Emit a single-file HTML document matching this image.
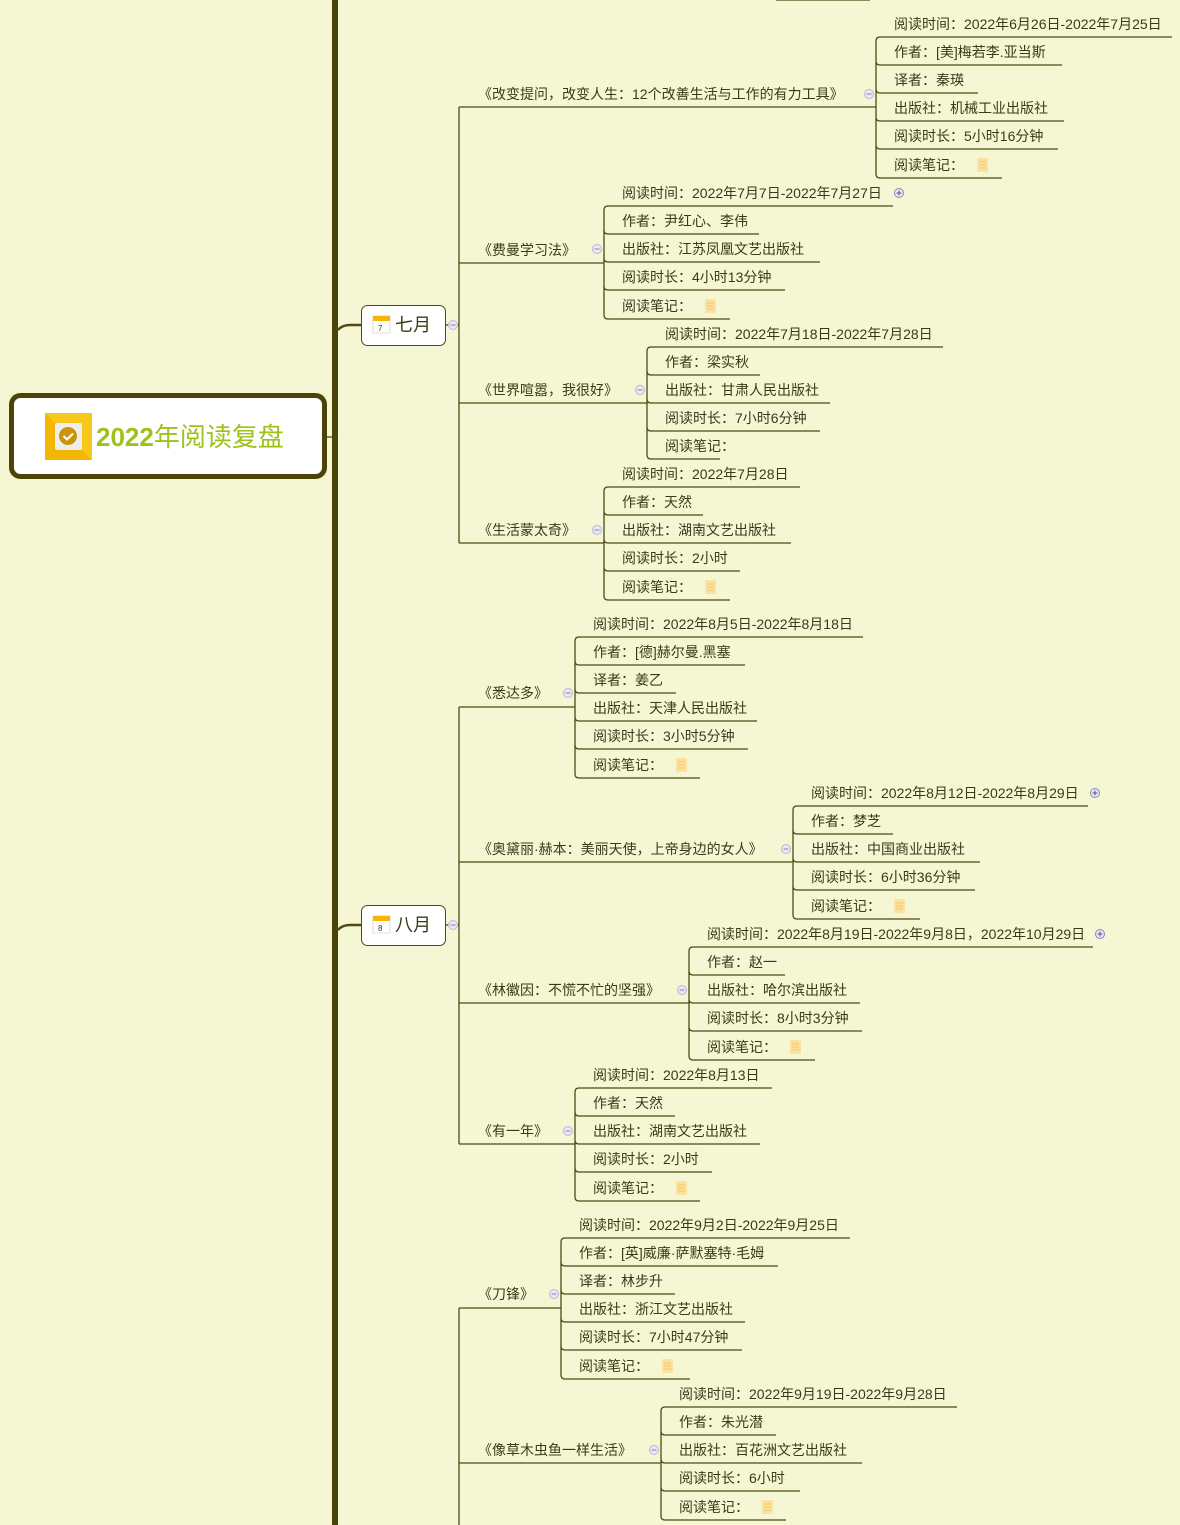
<!DOCTYPE html>
<html><head><meta charset="utf-8"><style>
html,body{margin:0;padding:0;background:#f5f6d3;}
svg{display:block;font-family:"Liberation Sans","Noto Sans CJK SC",sans-serif;}
text{font-size:14px;fill:#3b3a18;}
.l{stroke:#4f4a12;stroke-width:1.3;fill:none;}
</style></head><body>
<svg width="1180" height="1525" viewBox="0 0 1180 1525" xmlns="http://www.w3.org/2000/svg">
<defs>
<g id="note"><rect x="0" y="-12" width="11" height="14" rx="1" fill="#fbe2a2"/><path d="M2,-8h7M2,-5h7M2,-2h7" stroke="#f3c660" stroke-width="1"/></g>
<g id="min"><circle r="4.5" fill="#e9e8f3" stroke="#b9b8d2" stroke-width="1"/><path d="M-2.5,0h5" stroke="#8886a8" stroke-width="1"/></g>
<g id="plus"><circle r="4.5" fill="#e9e8f3" stroke="#8886b8" stroke-width="1"/><path d="M-2.5,0h5M0,-2.5v5" stroke="#55538a" stroke-width="1"/></g>
</defs>
<!-- main line -->
<rect x="332" y="0" width="6" height="1525" fill="#4a4408"/>
<path class="l" d="M776,0H870"/>
<!-- root -->
<path d="M327,437H338" class="l"/>
<rect x="11.5" y="395.5" width="313" height="81" rx="9" fill="#fff" stroke="#4a4408" stroke-width="5"/>
<rect x="45" y="413" width="47" height="47" fill="#f2b705"/>
<path d="M45,413h47v47z" fill="#f7c71a"/>
<rect x="55" y="423" width="27" height="27" rx="2" fill="#eee"/>
<circle cx="68" cy="436" r="9" fill="#c9950a"/>
<path d="M63.5,436l3.5,3.5l6,-6" stroke="#fff" stroke-width="2" fill="none"/>
<text x="96" y="446" style="font-size:26px;fill:#9dc21a;font-weight:bold">2022<tspan style="font-weight:normal">年阅读复盘</tspan></text>

<!-- month July -->
<path class="l" d="M338,330Q342,325 350,325H361" style="stroke-width:2.5"/>
<rect x="361.5" y="305.5" width="84" height="40" rx="6" fill="#fff" stroke="#4f4a12"/>
<rect x="373" y="316" width="17" height="17" fill="#fff" stroke="#ddd"/><rect x="373" y="316" width="17" height="5" fill="#f7b400"/>
<text x="378" y="331" style="font-size:8px">7</text>
<text x="395" y="331" style="font-size:18px">七月</text>
<path class="l" d="M446,325H459"/><use href="#min" x="453" y="325"/>
<path class="l" d="M459,107V543"/>

<!-- month Aug -->
<path class="l" d="M338,930Q342,925 350,925H361" style="stroke-width:2.5"/>
<rect x="361.5" y="905.5" width="84" height="40" rx="6" fill="#fff" stroke="#4f4a12"/>
<rect x="373" y="916" width="17" height="17" fill="#fff" stroke="#ddd"/><rect x="373" y="916" width="17" height="5" fill="#f7b400"/>
<text x="378" y="931" style="font-size:8px">8</text>
<text x="395" y="931" style="font-size:18px">八月</text>
<path class="l" d="M446,925H459"/><use href="#min" x="453" y="925"/>
<path class="l" d="M459,707V1144"/>
<path class="l" d="M459,1308V1525"/>

<!-- Book1 -->
<path class="l" d="M459,107H876"/><text x="478" y="99">《改变提问，改变人生：12个改善生活与工作的有力工具》</text><use href="#min" x="869" y="94"/>
<path class="l" d="M876,41Q876,37 880,37H1172M876,41V174Q876,178 880,178H1002M876,61Q876,65 880,65H1062M876,89Q876,93 880,93H978M876,117Q876,121 880,121H1064M876,145Q876,149 880,149H1058"/>
<text x="894" y="29">阅读时间：2022年6月26日-2022年7月25日</text>
<text x="894" y="57">作者：[美]梅若李.亚当斯</text>
<text x="894" y="85">译者：秦瑛</text>
<text x="894" y="113">出版社：机械工业出版社</text>
<text x="894" y="141">阅读时长：5小时16分钟</text>
<text x="894" y="170">阅读笔记：</text><use href="#note" x="977" y="170"/>

<!-- Book2 -->
<path class="l" d="M459,263H604"/><text x="478" y="255">《费曼学习法》</text><use href="#min" x="597" y="249"/>
<path class="l" d="M604,210Q604,206 608,206H893M604,210V315Q604,319 608,319H730M604,230Q604,234 608,234H759M604,258Q604,262 608,262H820M604,286Q604,290 608,290H785"/>
<use href="#plus" x="899" y="193"/>
<text x="622" y="198">阅读时间：2022年7月7日-2022年7月27日</text>
<text x="622" y="226">作者：尹红心、李伟</text>
<text x="622" y="254">出版社：江苏凤凰文艺出版社</text>
<text x="622" y="282">阅读时长：4小时13分钟</text>
<text x="622" y="311">阅读笔记：</text><use href="#note" x="705" y="311"/>

<!-- Book3 -->
<path class="l" d="M459,403H647"/><text x="478" y="395">《世界喧嚣，我很好》</text><use href="#min" x="640" y="390"/>
<path class="l" d="M647,351Q647,347 651,347H943M647,351V455Q647,459 651,459H720M647,371Q647,375 651,375H760M647,399Q647,403 651,403H830M647,427Q647,431 651,431H820"/>
<text x="665" y="339">阅读时间：2022年7月18日-2022年7月28日</text>
<text x="665" y="367">作者：梁实秋</text>
<text x="665" y="395">出版社：甘肃人民出版社</text>
<text x="665" y="423">阅读时长：7小时6分钟</text>
<text x="665" y="451">阅读笔记：</text>

<!-- Book4 -->
<path class="l" d="M459,543H604"/><text x="478" y="535">《生活蒙太奇》</text><use href="#min" x="597" y="530"/>
<path class="l" d="M604,491Q604,487 608,487H800M604,491V596Q604,600 608,600H730M604,511Q604,515 608,515H703M604,539Q604,543 608,543H791M604,567Q604,571 608,571H740"/>
<text x="622" y="479">阅读时间：2022年7月28日</text>
<text x="622" y="507">作者：天然</text>
<text x="622" y="535">出版社：湖南文艺出版社</text>
<text x="622" y="563">阅读时长：2小时</text>
<text x="622" y="592">阅读笔记：</text><use href="#note" x="705" y="592"/>

<!-- Book5 -->
<path class="l" d="M459,707H575"/><text x="478" y="698">《悉达多》</text><use href="#min" x="568" y="693"/>
<path class="l" d="M575,641Q575,637 579,637H863M575,641V774Q575,778 579,778H700M575,661Q575,665 579,665H745M575,689Q575,693 579,693H676M575,717Q575,721 579,721H757M575,745Q575,749 579,749H748"/>
<text x="593" y="629">阅读时间：2022年8月5日-2022年8月18日</text>
<text x="593" y="657">作者：[德]赫尔曼.黑塞</text>
<text x="593" y="685">译者：姜乙</text>
<text x="593" y="713">出版社：天津人民出版社</text>
<text x="593" y="741">阅读时长：3小时5分钟</text>
<text x="593" y="770">阅读笔记：</text><use href="#note" x="676" y="770"/>

<!-- Book6 -->
<path class="l" d="M459,862H793"/><text x="478" y="854">《奥黛丽·赫本：美丽天使，上帝身边的女人》</text><use href="#min" x="786" y="849"/>
<path class="l" d="M793,810Q793,806 797,806H1088M793,810V915Q793,919 797,919H920M793,830Q793,834 797,834H893M793,858Q793,862 797,862H980M793,886Q793,890 797,890H975"/>
<use href="#plus" x="1095" y="793"/>
<text x="811" y="798">阅读时间：2022年8月12日-2022年8月29日</text>
<text x="811" y="826">作者：梦芝</text>
<text x="811" y="854">出版社：中国商业出版社</text>
<text x="811" y="882">阅读时长：6小时36分钟</text>
<text x="811" y="911">阅读笔记：</text><use href="#note" x="894" y="911"/>

<!-- Book7 -->
<path class="l" d="M459,1003H689"/><text x="478" y="995">《林徽因：不慌不忙的坚强》</text><use href="#min" x="682" y="990"/>
<path class="l" d="M689,951Q689,947 693,947H1093M689,951V1056Q689,1060 693,1060H815M689,971Q689,975 693,975H785M689,999Q689,1003 693,1003H860M689,1027Q689,1031 693,1031H862"/>
<use href="#plus" x="1100" y="934"/>
<text x="707" y="939">阅读时间：2022年8月19日-2022年9月8日，2022年10月29日</text>
<text x="707" y="967">作者：赵一</text>
<text x="707" y="995">出版社：哈尔滨出版社</text>
<text x="707" y="1023">阅读时长：8小时3分钟</text>
<text x="707" y="1052">阅读笔记：</text><use href="#note" x="790" y="1052"/>

<!-- Book8 -->
<path class="l" d="M459,1144H575"/><text x="478" y="1136">《有一年》</text><use href="#min" x="568" y="1131"/>
<path class="l" d="M575,1092Q575,1088 579,1088H772M575,1092V1197Q575,1201 579,1201H700M575,1112Q575,1116 579,1116H675M575,1140Q575,1144 579,1144H760M575,1168Q575,1172 579,1172H712"/>
<text x="593" y="1080">阅读时间：2022年8月13日</text>
<text x="593" y="1108">作者：天然</text>
<text x="593" y="1136">出版社：湖南文艺出版社</text>
<text x="593" y="1164">阅读时长：2小时</text>
<text x="593" y="1193">阅读笔记：</text><use href="#note" x="676" y="1193"/>

<!-- Book9 -->
<path class="l" d="M459,1308H561"/><text x="478" y="1299">《刀锋》</text><use href="#min" x="554" y="1294"/>
<path class="l" d="M561,1242Q561,1238 565,1238H850M561,1242V1375Q561,1379 565,1379H690M561,1262Q561,1266 565,1266H778M561,1290Q561,1294 565,1294H675M561,1318Q561,1322 565,1322H745M561,1346Q561,1350 565,1350H742"/>
<text x="579" y="1230">阅读时间：2022年9月2日-2022年9月25日</text>
<text x="579" y="1258">作者：[英]威廉·萨默塞特·毛姆</text>
<text x="579" y="1286">译者：林步升</text>
<text x="579" y="1314">出版社：浙江文艺出版社</text>
<text x="579" y="1342">阅读时长：7小时47分钟</text>
<text x="579" y="1371">阅读笔记：</text><use href="#note" x="662" y="1371"/>

<!-- Book10 -->
<path class="l" d="M459,1463H661"/><text x="478" y="1455">《像草木虫鱼一样生活》</text><use href="#min" x="654" y="1450"/>
<path class="l" d="M661,1411Q661,1407 665,1407H957M661,1411V1516Q661,1520 665,1520H786M661,1431Q661,1435 665,1435H776M661,1459Q661,1463 665,1463H862M661,1487Q661,1491 665,1491H800"/>
<text x="679" y="1399">阅读时间：2022年9月19日-2022年9月28日</text>
<text x="679" y="1427">作者：朱光潜</text>
<text x="679" y="1455">出版社：百花洲文艺出版社</text>
<text x="679" y="1483">阅读时长：6小时</text>
<text x="679" y="1512">阅读笔记：</text><use href="#note" x="762" y="1512"/>
</svg>
</body></html>
